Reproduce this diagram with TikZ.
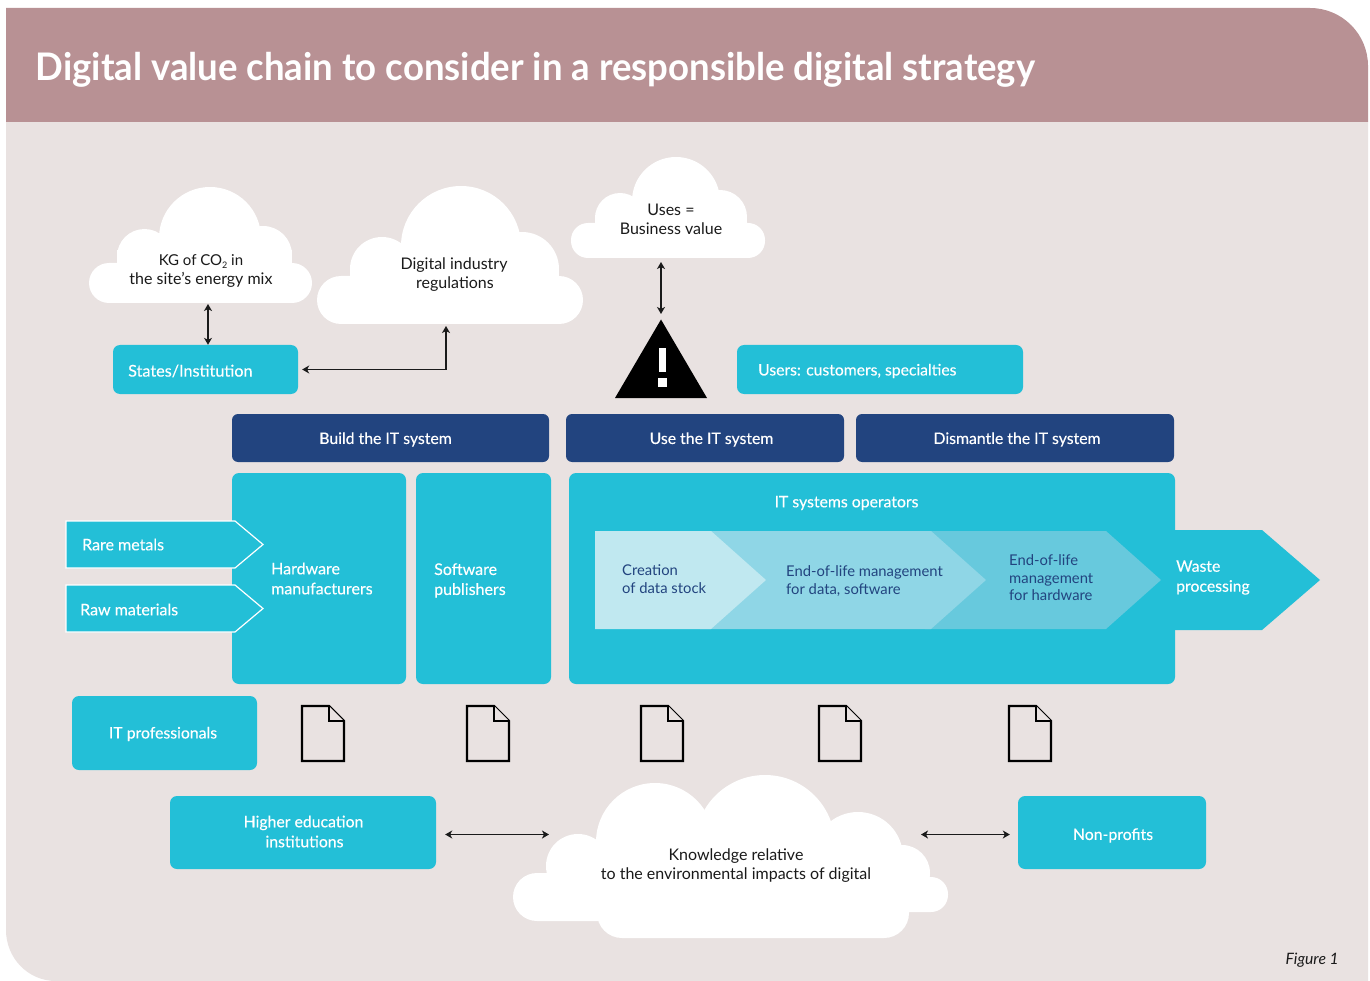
\documentclass[tikz,border=0pt]{standalone}
\usepackage{fontspec}
\setmainfont{Lato}
\newfontfamily\titlefont[FakeStretch=0.962,BoldFont=Lato Bold]{Lato}
\newfontfamily\whitefont[FakeBold=0.25]{Lato}
\usetikzlibrary{arrows.meta}
\definecolor{teal}{HTML}{23BFD7}
\definecolor{navy}{HTML}{22447F}
\definecolor{panel}{HTML}{E9E2E1}
\definecolor{head}{HTML}{B89194}
\definecolor{chevA}{HTML}{C0E8F0}
\definecolor{chevB}{HTML}{8FD6E6}
\definecolor{chevC}{HTML}{67C9DD}
\definecolor{ink}{HTML}{1A1A1A}
\tikzset{
  x=1pt,y=-1pt,
  tbox/.style={fill=teal,rounded corners=7pt,inner sep=0pt},
  nbox/.style={fill=navy,rounded corners=6pt,inner sep=0pt,minimum height=48pt},
  wtext/.style={text=white,align=left,inner sep=0pt,font=\whitefont\fontsize{16}{20}\selectfont},
  wctext/.style={text=white,align=center,inner sep=0pt,font=\whitefont\fontsize{15.8}{20}\selectfont},
  ctext/.style={text=ink,align=center,inner sep=0pt,font=\fontsize{16}{19}\selectfont},
  dtext/.style={text=navy,align=left,inner sep=0pt,font=\fontsize{14.8}{17.5}\selectfont},
  cloudfill/.style={fill=white,draw=none},
  conn/.style={draw=ink,line width=1.2pt,{Stealth[length=7pt,width=8pt,inset=2pt]}-{Stealth[length=7pt,width=8pt,inset=2pt]}},
  doc/.style={draw=black,line width=2.2pt,fill=panel,line join=miter},
  inarrow/.style={fill=teal,draw=white,line width=1.2pt},
}
\begin{document}
\begin{tikzpicture}
\useasboundingbox (0,0) rectangle (1370,981);
\fill[white] (0,0) rectangle (1370,981);
% panel and header
\fill[panel] (6,122) -- (1368,122) -- (1368,981) -- (56,981) .. controls (28,981) and (6,958) .. (6,930) -- cycle;
\fill[head] (6,122) -- (6,8) -- (1310,8) .. controls (1342,8) and (1368,34) .. (1368,66) -- (1368,122) -- cycle;
\node (title) [anchor=west,text=white,inner sep=0pt,font=\titlefont\fontsize{38}{40}\bfseries\selectfont] at (35.5,70) {Digital value chain to consider in a responsible digital strategy};
% cloud 1
\fill[cloudfill,rounded corners=20pt] (89,263) rectangle (312,303);
\fill[cloudfill] (144.5,256.5) circle[radius=27.5];
\fill[cloudfill] (263,255) circle[radius=29];
\fill[cloudfill] (210,238) circle[radius=51];
\fill[cloudfill] (117,250) rectangle (292,290);
\node (cloudA) [ctext] at (201,271) {{\fontsize{15}{19}\selectfont KG of CO\raisebox{-3pt}{\fontsize{9}{9}\selectfont 2} in}\\the site’s energy mix};
\coordinate (cloudAbottom) at (208,304);
% cloud 2
\fill[cloudfill,rounded corners=24pt] (317,276) rectangle (583,324);
\fill[cloudfill] (382,269) circle[radius=32];
\fill[cloudfill] (522,269) circle[radius=37];
\fill[cloudfill] (461,246) circle[radius=60];
\fill[cloudfill] (350,265) rectangle (559,310);
\node (cloudB) [ctext] at (454,275) {Digital industry\\\hspace*{2pt}regulations};
\coordinate (cloudBbottom) at (446,326);
% cloud 3
\fill[cloudfill,rounded corners=17pt] (571,223) rectangle (765,258);
\fill[cloudfill] (620,218) circle[radius=25];
\fill[cloudfill] (720,217) circle[radius=27];
\fill[cloudfill] (676,201) circle[radius=44];
\fill[cloudfill] (595,215) rectangle (747,245);
\node (cloudC) [ctext] at (671,219.5) {Uses =\\Business value};
\coordinate (cloudCbottom) at (661,262);
% cloud 4
\fill[cloudfill,rounded corners=24pt] (513,873) rectangle (640,921);
\fill[cloudfill,rounded corners=17pt] (860,877) rectangle (948,912);
\fill[cloudfill,rounded corners=25pt] (597,850) rectangle (909,938);
\fill[cloudfill] (578,866) circle[radius=32];
\fill[cloudfill] (655,842) circle[radius=59];
\fill[cloudfill] (765,845) circle[radius=70];
\fill[cloudfill] (858,857) circle[radius=45];
\fill[cloudfill] (902,873) circle[radius=28];
\node (cloudD) [ctext] at (736,866) {Knowledge relative\\to the environmental impacts of digital};
\coordinate (cloudDleft) at (549,834.5);
\coordinate (cloudDright) at (921,834.5);
% warning sign
\fill[black] (661,319.5) -- (707,398) -- (615,398) -- cycle;
\fill[white] (659,348) rectangle (666,372);
\fill[white] (658,378) rectangle (667,387);
\coordinate (warnTop) at (661,314);
% top boxes
\node (states) [tbox,minimum width=185pt,minimum height=49pt] at (205.5,369.5) {};
\node (statesT) [wtext,font=\whitefont\fontsize{16.2}{20}\selectfont,anchor=west] at (128,371) {States/Institution};
\node (users) [tbox,minimum width=286pt,minimum height=49pt] at (880,369.5) {};
\node (usersT) [wtext,font=\whitefont\fontsize{15.7}{20}\selectfont,anchor=west] at (758,371) {Users: customers, specialties};
% phases
\node (build) [nbox,minimum width=317pt] at (390.5,438) {};
\node (buildT) [wctext] at (385.5,439.5) {Build the IT system};
\node (use) [nbox,minimum width=278pt] at (705,438) {};
\node (useT) [wctext] at (711.5,439.5) {Use the IT system};
\node (dismantle) [nbox,minimum width=318pt] at (1015,438) {};
\node (dismantleT) [wctext] at (1017,439.5) {Dismantle the IT system};
% waste arrow
\fill[teal] (1170,530) -- (1262,530) -- (1320,580) -- (1262,630) -- (1170,630) -- cycle;
% main boxes
\node (hw) [tbox,minimum width=174pt,minimum height=211pt] at (319,578.5) {};
\node (sw) [tbox,minimum width=135pt,minimum height=211pt] at (483.5,578.5) {};
\node (ops) [tbox,minimum width=606pt,minimum height=211pt] at (872,578.5) {};
\node (hwT) [wtext,anchor=west] at (271,578.5) {Hardware\\manufacturers};
\node (swT) [wtext,anchor=west] at (434,580.5) {Software\\publishers};
\node (opsT) [wctext] at (846.5,503) {IT systems operators};
\node (wasteT) [wtext,font=\whitefont\fontsize{15.8}{20}\selectfont,anchor=west] at (1176,577.5) {Waste\\processing};
% chevrons
\fill[chevC] (925,531) -- (1106,531) -- (1161,580) -- (1106,629) -- (925,629) -- cycle;
\fill[chevB] (700,531) -- (931,531) -- (986,580) -- (931,629) -- (700,629) -- cycle;
\fill[chevA] (595,531) -- (711,531) -- (766,580) -- (711,629) -- (595,629) -- cycle;
\node (chA) [dtext,anchor=west] at (622,579) {Creation\\of data stock};
\node (chB) [dtext,anchor=west] at (786,581) {End-of-life management\\for data, software};
\node (chC) [dtext,anchor=west] at (1009,578) {End-of-life\\management\\for hardware};
% input arrows
\draw[inarrow] (66,521) -- (235,521) -- (263,544.5) -- (235,568) -- (66,568) -- cycle;
\draw[inarrow] (66,585) -- (235,585) -- (263,608.5) -- (235,632) -- (66,632) -- cycle;
\node (rare) [wtext,anchor=west] at (82,544.5) {Rare metals};
\node (raw) [wtext,anchor=west] at (80,609.5) {Raw materials};
% lower boxes
\node (itp) [tbox,minimum width=185pt,minimum height=74pt] at (164.5,733) {};
\node (itpT) [wctext] at (163,734) {IT professionals};
\node (hei) [tbox,minimum width=266pt,minimum height=73pt] at (303,832.5) {};
\node (heiT) [wctext] at (303.5,831.5) {Higher education\\\hspace*{2pt}institutions};
\node (np) [tbox,minimum width=188pt,minimum height=73pt] at (1112,832.5) {};
\node (npT) [wctext] at (1113,835.5) {Non-profits};
% documents
\foreach \dx in {302,467,641,819,1009}{
  \draw[doc] (\dx,706) -- (\dx+27,706) -- (\dx+42,721) -- (\dx+42,761) -- (\dx,761) -- cycle;
  \draw[doc,line width=1.8pt] (\dx+27,706) -- (\dx+27,721) -- (\dx+42,721);
}
% connectors
\draw[conn] (cloudAbottom) -- (states.north -| cloudAbottom);
\draw[conn] ([xshift=4pt]states.east) -- (states.east -| cloudBbottom) -- (cloudBbottom);
\draw[conn] (cloudCbottom) -- (warnTop);
\draw[conn] ([xshift=9pt]hei.east |- cloudDleft) -- (cloudDleft);
\draw[conn] (cloudDright) -- ([xshift=-8pt]np.west |- cloudDright);
\node (fig) [anchor=east,inner sep=0pt,text=ink,font=\fontsize{15.7}{17}\itshape\selectfont] at (1339,960) {Figure 1};
\end{tikzpicture}
\end{document}
